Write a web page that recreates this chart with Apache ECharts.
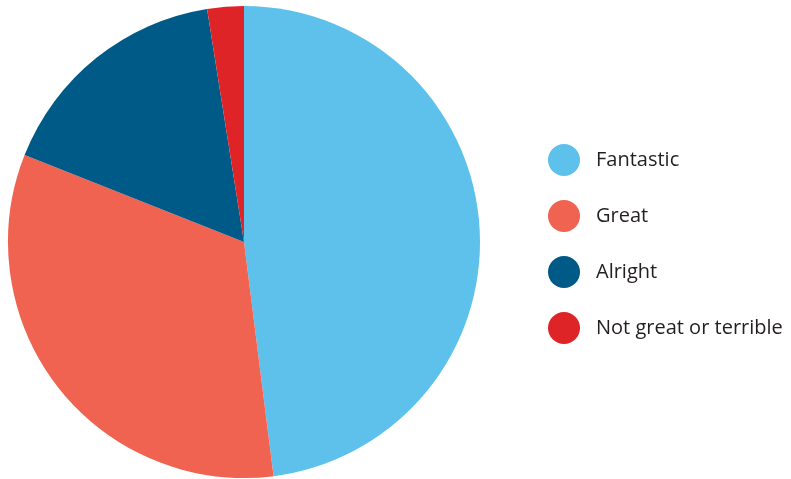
<!DOCTYPE html>
<html>
<head>
<meta charset="utf-8">
<script src="https://cdn.jsdelivr.net/npm/echarts@6/dist/echarts.min.js"></script>
<style>
  html, body { margin: 0; padding: 0; background: #fff; }
  #chart { width: 791px; height: 479px; }
</style>
</head>
<body>
<div id="chart"></div>
<script>
// slice names and shares (percent)
const categories = ['Fantastic', 'Great', 'Alright', 'Not great or terrible'];
const values = [48, 33, 16.5, 2.5];
const colors = ['#5DC1EC', '#F06351', '#005A87', '#DF2427'];

const myChart = echarts.init(document.getElementById('chart'));
const option = {
  animation: false,
  color: colors,
  legend: {
    orient: 'vertical',
    left: 543,
    top: 139,
    icon: 'circle',
    itemWidth: 32,
    itemHeight: 32,
    itemGap: 24,
    data: categories,
    textStyle: {
      fontFamily: 'Open Sans',
      fontSize: 20,
      color: '#231f20',
      padding: [0, 0, 0, 11]
    }
  },
  series: [{
    type: 'pie',
    center: [244, 242],
    radius: 236,
    startAngle: 90,
    clockwise: true,
    label: { show: false },
    labelLine: { show: false },
    itemStyle: { borderWidth: 0 },
    emphasis: { disabled: true },
    data: categories.map((name, i) => ({ name: name, value: values[i] }))
  }]
};
myChart.setOption(option);
</script>
</body>
</html>
